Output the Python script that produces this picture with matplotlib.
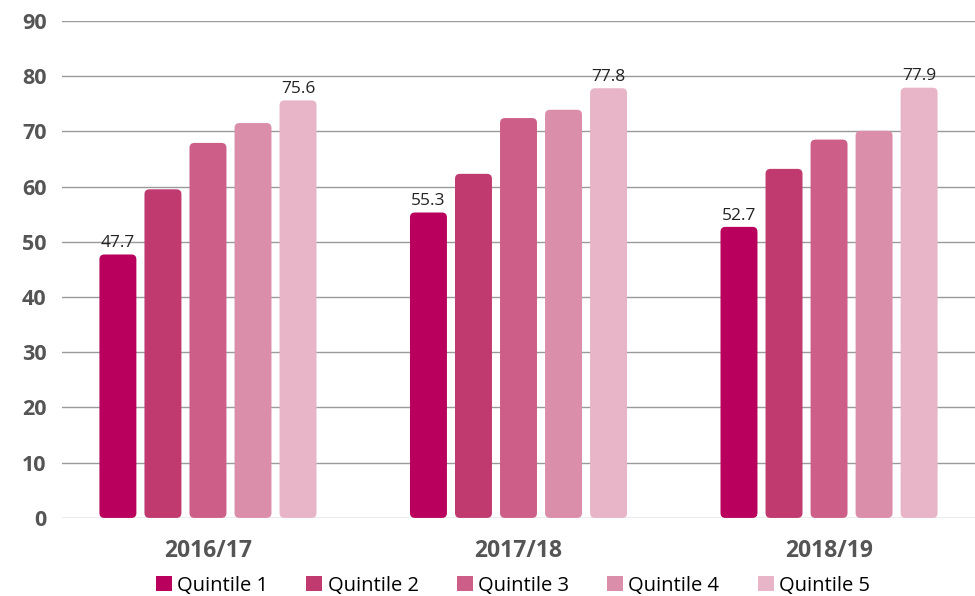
import numpy as np
import matplotlib.pyplot as plt
from matplotlib.patches import FancyBboxPatch, Patch

plt.rcParams['font.family'] = ['Open Sans', 'DejaVu Sans']

years = ['2016/17', '2017/18', '2018/19']
quintiles = ['Quintile 1', 'Quintile 2', 'Quintile 3', 'Quintile 4', 'Quintile 5']
q1 = [47.7, 55.3, 52.7]
q2 = [59.5, 62.3, 63.2]
q3 = [67.9, 72.4, 68.5]
q4 = [71.5, 73.9, 70.1]
q5 = [75.6, 77.8, 77.9]
colors = ['#b8005c', '#c0396f', '#cc5e88', '#db8eaa', '#e8b4c7']

series = [q1, q2, q3, q4, q5]
labelled = [0, 4]  # only first and last quintile carry values

fig = plt.figure(figsize=(9.75, 5.96), dpi=100)
ax = fig.add_axes([0.0636, 0.131, 0.9364, 0.834])

pitch = 0.145
width = 0.119
x = np.arange(len(years))
ax.set_xlim(-0.47, 2.47)
ax.set_ylim(0, 90)

for k, vals in enumerate(series):
    for i, v in enumerate(vals):
        xc = x[i] + (k - 2) * pitch
        box = FancyBboxPatch((xc - width / 2, 0), width, v,
                             boxstyle='round,pad=0,rounding_size=0.016',
                             mutation_aspect=56, facecolor=colors[k],
                             edgecolor='none', zorder=3)
        ax.add_patch(box)
        if k in labelled:
            ax.text(xc, v + 0.6, f'{v:.1f}', ha='center', va='bottom',
                    fontsize=12.5, color='#222222', zorder=4)

ax.set_yticks(np.arange(0, 91, 10))
ax.yaxis.grid(True, color='#9a9a9a', linewidth=1)
ax.set_axisbelow(True)
ax.tick_params(axis='y', length=0, pad=11, labelsize=15.5, labelcolor='#555555')
for t in ax.get_yticklabels():
    t.set_fontweight('bold')
ax.set_xticks(x)
ax.set_xticklabels(years, fontsize=16.5, fontweight='bold', color='#555555')
ax.tick_params(axis='x', length=0, pad=15)
for s in ax.spines.values():
    s.set_visible(False)

handles = [Patch(facecolor=c, edgecolor='none') for c in colors]
fig.legend(handles, quintiles, loc='lower center', bbox_to_anchor=(0.526, -0.03),
           ncol=5, frameon=False, fontsize=14.5, handlelength=0.8, handleheight=0.8,
           handletextpad=0.25, columnspacing=1.9)

fig.savefig('out.png', dpi=100)
